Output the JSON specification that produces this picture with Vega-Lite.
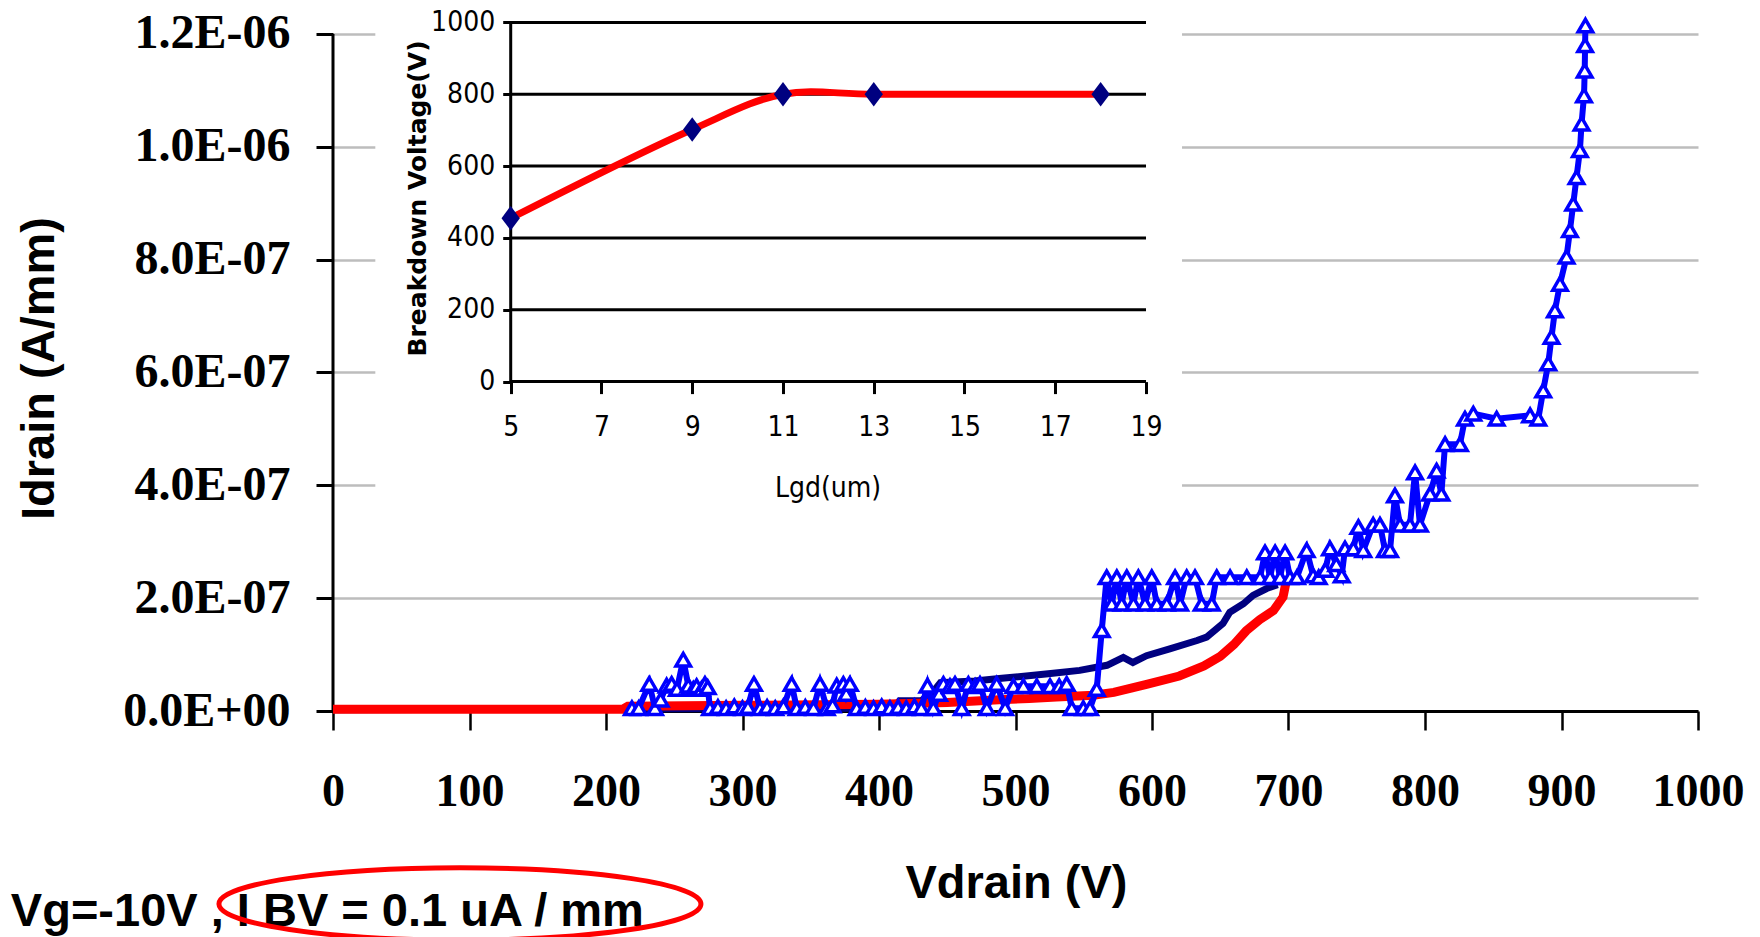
{
  "$schema": "https://vega.github.io/schema/vega-lite/v6.json",
  "width": 1365,
  "height": 691,
  "autosize": {"type": "none"},
  "padding": {"left": 333, "top": 20, "right": 62, "bottom": 226},
  "background": "white",
  "config": {"view": {"stroke": null}},
  "datasets": {
    "white": [{"v": 31, "v2": 622, "i": 3.58e-7, "i2": 1.2248e-6}],
    "yaxis": [{"v": 0, "i": 0, "i2": 1.2e-6}],
    "navy": [
      {"v": 0, "i": 2e-9}, {"v": 400, "i": 5e-9}, {"v": 412, "i": 1e-8}, {"v": 415, "i": 1.8e-8},
      {"v": 431, "i": 1.8e-8}, {"v": 440, "i": 3.5e-8}, {"v": 445, "i": 5e-8}, {"v": 470, "i": 5.3e-8},
      {"v": 490, "i": 5.8e-8}, {"v": 524, "i": 6.6e-8}, {"v": 547, "i": 7.2e-8}, {"v": 567, "i": 8.1e-8},
      {"v": 579, "i": 9.5e-8}, {"v": 586, "i": 8.6e-8}, {"v": 596, "i": 9.8e-8}, {"v": 613, "i": 1.1e-7},
      {"v": 633, "i": 1.25e-7}, {"v": 640, "i": 1.31e-7}, {"v": 652, "i": 1.55e-7}, {"v": 657, "i": 1.75e-7},
      {"v": 667, "i": 1.9e-7}, {"v": 674, "i": 2.05e-7}, {"v": 684, "i": 2.17e-7}, {"v": 692, "i": 2.24e-7}
    ],
    "red": [
      {"v": 0, "i": 3e-9}, {"v": 212, "i": 3e-9}, {"v": 216, "i": 8.5e-9}, {"v": 300, "i": 1e-8},
      {"v": 400, "i": 1.2e-8}, {"v": 450, "i": 1.5e-8}, {"v": 488, "i": 2e-8}, {"v": 510, "i": 2.2e-8},
      {"v": 530, "i": 2.5e-8}, {"v": 557, "i": 2.8e-8}, {"v": 572, "i": 3.3e-8}, {"v": 596, "i": 4.7e-8},
      {"v": 620, "i": 6.2e-8}, {"v": 638, "i": 8e-8}, {"v": 650, "i": 9.7e-8}, {"v": 660, "i": 1.18e-7},
      {"v": 669, "i": 1.42e-7}, {"v": 679, "i": 1.62e-7}, {"v": 689, "i": 1.78e-7}, {"v": 696, "i": 2.02e-7},
      {"v": 698, "i": 2.26e-7}
    ],
    "blue": [
      {"v": 219, "i": 5e-9}, {"v": 224, "i": 5e-9}, {"v": 231.7, "i": 4.8e-8}, {"v": 235.9, "i": 5e-9},
      {"v": 240, "i": 2e-8}, {"v": 244.4, "i": 4.5e-8}, {"v": 248.1, "i": 4.8e-8}, {"v": 252, "i": 3.9e-8},
      {"v": 256.6, "i": 9.1e-8}, {"v": 260.3, "i": 4.5e-8}, {"v": 264, "i": 3.9e-8}, {"v": 266.4, "i": 4.4e-8},
      {"v": 270, "i": 3.9e-8}, {"v": 272.5, "i": 4.8e-8}, {"v": 274.5, "i": 4.2e-8}, {"v": 276.2, "i": 5e-9},
      {"v": 282, "i": 7e-9}, {"v": 288, "i": 5e-9}, {"v": 294, "i": 8e-9}, {"v": 300, "i": 5e-9},
      {"v": 304, "i": 7e-9}, {"v": 308.4, "i": 4.8e-8}, {"v": 312.8, "i": 5e-9}, {"v": 318, "i": 7e-9},
      {"v": 324, "i": 5e-9}, {"v": 330, "i": 8e-9}, {"v": 336, "i": 4.8e-8}, {"v": 339.7, "i": 5e-9},
      {"v": 346, "i": 7e-9}, {"v": 352, "i": 5e-9}, {"v": 356.8, "i": 4.8e-8}, {"v": 361.7, "i": 5e-9},
      {"v": 366, "i": 1e-8}, {"v": 369, "i": 4.5e-8}, {"v": 373.9, "i": 4.8e-8}, {"v": 376, "i": 3e-8},
      {"v": 378.7, "i": 4.8e-8}, {"v": 383.6, "i": 5e-9}, {"v": 390, "i": 7e-9}, {"v": 396, "i": 5e-9},
      {"v": 402, "i": 8e-9}, {"v": 408, "i": 5e-9}, {"v": 414, "i": 7e-9}, {"v": 420, "i": 5e-9},
      {"v": 426, "i": 8e-9}, {"v": 431, "i": 5e-9}, {"v": 435.5, "i": 4.5e-8}, {"v": 439.8, "i": 5e-9},
      {"v": 444, "i": 3e-8}, {"v": 447.2, "i": 4.8e-8}, {"v": 452, "i": 4.4e-8}, {"v": 455.7, "i": 4.8e-8},
      {"v": 460.6, "i": 5e-9}, {"v": 465.5, "i": 4.8e-8}, {"v": 470.4, "i": 4.4e-8}, {"v": 474, "i": 4.8e-8},
      {"v": 479, "i": 5e-9}, {"v": 486.2, "i": 4.8e-8}, {"v": 492.4, "i": 5e-9}, {"v": 498.5, "i": 4.4e-8},
      {"v": 505.8, "i": 4.4e-8}, {"v": 515.6, "i": 4.4e-8}, {"v": 525.3, "i": 4.4e-8}, {"v": 532, "i": 4.4e-8},
      {"v": 537.5, "i": 4.8e-8}, {"v": 541.2, "i": 5e-9}, {"v": 549.7, "i": 5e-9}, {"v": 554.6, "i": 5e-9},
      {"v": 559.5, "i": 3.9e-8}, {"v": 563.2, "i": 1.43e-7}, {"v": 566.8, "i": 2.37e-7}, {"v": 570.5, "i": 1.9e-7},
      {"v": 574.2, "i": 2.37e-7}, {"v": 577.8, "i": 1.9e-7}, {"v": 581.5, "i": 2.37e-7}, {"v": 586.4, "i": 1.9e-7},
      {"v": 590, "i": 2.37e-7}, {"v": 594.9, "i": 1.9e-7}, {"v": 599.8, "i": 2.37e-7}, {"v": 603.5, "i": 1.9e-7},
      {"v": 610.8, "i": 1.9e-7}, {"v": 616.9, "i": 2.37e-7}, {"v": 620.6, "i": 1.9e-7}, {"v": 625.4, "i": 2.37e-7},
      {"v": 631.5, "i": 2.37e-7}, {"v": 636.4, "i": 1.9e-7}, {"v": 643.8, "i": 1.9e-7}, {"v": 647.4, "i": 2.37e-7},
      {"v": 657.2, "i": 2.37e-7}, {"v": 669.4, "i": 2.37e-7}, {"v": 679.2, "i": 2.37e-7}, {"v": 682.8, "i": 2.81e-7},
      {"v": 686.5, "i": 2.37e-7}, {"v": 690.2, "i": 2.81e-7}, {"v": 693.8, "i": 2.37e-7}, {"v": 697.5, "i": 2.81e-7},
      {"v": 701.1, "i": 2.37e-7}, {"v": 706.2, "i": 2.37e-7}, {"v": 713.3, "i": 2.85e-7}, {"v": 718, "i": 2.4e-7},
      {"v": 722.1, "i": 2.37e-7}, {"v": 727, "i": 2.5e-7}, {"v": 730.4, "i": 2.88e-7}, {"v": 735, "i": 2.6e-7},
      {"v": 739, "i": 2.4e-7}, {"v": 741.4, "i": 2.88e-7}, {"v": 747.5, "i": 2.88e-7}, {"v": 751.2, "i": 3.26e-7},
      {"v": 754.8, "i": 2.85e-7}, {"v": 762, "i": 3.3e-7}, {"v": 767, "i": 3.3e-7}, {"v": 770.7, "i": 2.85e-7},
      {"v": 774.4, "i": 2.85e-7}, {"v": 778, "i": 3.82e-7}, {"v": 781.7, "i": 3.3e-7}, {"v": 789, "i": 3.3e-7},
      {"v": 792.7, "i": 4.23e-7}, {"v": 796.3, "i": 3.3e-7}, {"v": 803.7, "i": 3.85e-7}, {"v": 808.5, "i": 4.26e-7},
      {"v": 812, "i": 3.85e-7}, {"v": 814.7, "i": 4.73e-7}, {"v": 825.6, "i": 4.73e-7}, {"v": 829.3, "i": 5.18e-7},
      {"v": 835.4, "i": 5.27e-7}, {"v": 852.5, "i": 5.18e-7}, {"v": 877, "i": 5.24e-7}, {"v": 883, "i": 5.18e-7},
      {"v": 886.6, "i": 5.68e-7}, {"v": 890.3, "i": 6.16e-7}, {"v": 892.7, "i": 6.63e-7}, {"v": 895.2, "i": 7.1e-7},
      {"v": 898.9, "i": 7.57e-7}, {"v": 903.7, "i": 8.05e-7}, {"v": 906.2, "i": 8.52e-7}, {"v": 908.6, "i": 8.99e-7},
      {"v": 911, "i": 9.46e-7}, {"v": 913.5, "i": 9.94e-7}, {"v": 914.7, "i": 1.041e-6}, {"v": 916.5, "i": 1.091e-6},
      {"v": 917, "i": 1.135e-6}, {"v": 917.3, "i": 1.18e-6}, {"v": 917.5, "i": 1.215e-6}
    ],
    "note": [{"v": -236, "i": -3.56e-7, "label": "Vg=-10V , I BV = 0.1 uA / mm"}],
    "ellipse": [{"v": 93, "i": -3.42e-7}],
    "insetGrid": [
      {"lgd": 5, "lgd2": 19, "bv": 0}, {"lgd": 5, "lgd2": 19, "bv": 200}, {"lgd": 5, "lgd2": 19, "bv": 400},
      {"lgd": 5, "lgd2": 19, "bv": 600}, {"lgd": 5, "lgd2": 19, "bv": 800}, {"lgd": 5, "lgd2": 19, "bv": 1000}
    ],
    "insetAxis": [{"lgd": 5, "bv": 0, "bv2": 1000}],
    "bv": [
      {"lgd": 5, "bv": 455}, {"lgd": 9, "bv": 702}, {"lgd": 11, "bv": 800}, {"lgd": 13, "bv": 800}, {"lgd": 18, "bv": 800}
    ]
  },
  "layer": [
    {
      "encoding": {
        "x": {
          "field": "v", "type": "quantitative",
          "scale": {"domain": [0, 1000], "nice": false, "zero": false},
          "axis": {
            "orient": "bottom", "values": [0, 100, 200, 300, 400, 500, 600, 700, 800, 900, 1000], "format": "d",
            "grid": false, "domain": true, "domainColor": "black", "domainWidth": 3,
            "ticks": true, "tickColor": "black", "tickWidth": 2.5, "tickSize": 19,
            "labelFont": "Liberation Serif", "labelFontWeight": "bold", "labelFontSize": 46,
            "labelColor": "black", "labelPadding": 61, "labelBaseline": "middle",
            "labelFlush": false, "labelOverlap": false,
            "title": "Vdrain (V)", "titleFont": "Liberation Sans", "titleFontWeight": "bold",
            "titleFontSize": 47, "titleColor": "black", "titleX": 683, "titleY": 172,
            "titleBaseline": "middle", "titleAlign": "center", "zindex": 0
          }
        },
        "y": {
          "field": "i", "type": "quantitative",
          "scale": {"domain": [0, 1.2248e-6], "nice": false, "zero": false},
          "axis": {
            "orient": "left", "values": [0, 2e-7, 4e-7, 6e-7, 8e-7, 1e-6, 1.2e-6],
            "grid": true, "gridColor": "#BDBDBD", "gridWidth": 2.5,
            "domain": false, "ticks": true, "tickColor": "black", "tickWidth": 3, "tickSize": 17,
            "labelExpr": "replace(replace(format(datum.value, '.1e'), 'e-', 'E-0'), 'e+', 'E+0')",
            "labelFont": "Liberation Serif", "labelFontWeight": "bold", "labelFontSize": 48,
            "labelColor": "black", "labelPadding": 26, "labelOverlap": false, "labelFlush": false,
            "title": "Idrain (A/mm)", "titleFont": "Liberation Sans", "titleFontWeight": "bold",
            "titleFontSize": 47, "titleColor": "black", "titleX": -294, "titleY": 348,
            "titleAngle": 270, "titleBaseline": "middle", "titleAlign": "center", "zindex": 0
          }
        }
      },
      "layer": [
        {
          "data": {"name": "white"},
          "mark": {"type": "rect", "fill": "white", "stroke": null},
          "encoding": {"x2": {"field": "v2"}, "y2": {"field": "i2"}}
        },
        {
          "data": {"name": "yaxis"},
          "mark": {"type": "rule", "color": "black", "strokeWidth": 3},
          "encoding": {"y2": {"field": "i2"}}
        },
        {
          "data": {"name": "navy"},
          "mark": {"type": "line", "color": "#000080", "strokeWidth": 7},
          "encoding": {}
        },
        {
          "data": {"name": "red"},
          "mark": {"type": "line", "color": "#FF0000", "strokeWidth": 9},
          "encoding": {}
        },
        {
          "data": {"name": "blue"},
          "mark": {"type": "line", "color": "#0000FF", "strokeWidth": 6},
          "encoding": {}
        },
        {
          "data": {"name": "blue"},
          "mark": {"type": "point", "shape": "triangle-up", "size": 210, "filled": true, "fill": "white", "stroke": "#0000FF", "strokeWidth": 3.5, "opacity": 1}
        },
        {
          "data": {"name": "note"},
          "mark": {"type": "text", "align": "left", "baseline": "middle", "font": "Liberation Sans", "fontWeight": "bold", "fontSize": 47, "color": "black"},
          "encoding": {"text": {"field": "label"}}
        },
        {
          "data": {"name": "ellipse"},
          "mark": {
            "type": "point",
            "shape": "M-1,0C-1,-0.0828,-0.5523,-0.15,0,-0.15C0.5523,-0.15,1,-0.0828,1,0C1,0.0828,0.5523,0.15,0,0.15C-0.5523,0.15,-1,0.0828,-1,0Z",
            "size": 232324, "filled": false, "stroke": "#FF0000", "strokeWidth": 5, "opacity": 1
          }
        }
      ]
    },
    {
      "encoding": {
        "x": {
          "field": "lgd", "type": "quantitative",
          "scale": {"domain": [1.084, 31.164], "nice": false, "zero": false},
          "axis": {
            "orient": "bottom", "offset": -329.4, "values": [5, 7, 9, 11, 13, 15, 17, 19], "format": "d",
            "domain": false, "grid": false, "ticks": true, "tickColor": "black", "tickWidth": 3, "tickSize": 12,
            "labelFont": "Liberation Sans Narrow, DejaVu Sans Condensed, sans-serif", "labelFontSize": 28,
            "labelColor": "black", "labelPadding": 34, "labelBaseline": "middle",
            "labelFlush": false, "labelOverlap": false,
            "title": "Lgd(um)", "titleFont": "Liberation Sans Narrow, DejaVu Sans Condensed, sans-serif",
            "titleFontWeight": "normal", "titleFontSize": 28, "titleColor": "black",
            "titleX": 494.5, "titleY": 106.4, "titleBaseline": "middle", "titleAlign": "center", "zindex": 2
          }
        },
        "y": {
          "field": "bv", "type": "quantitative",
          "scale": {"domain": [-917, 1006.7], "nice": false, "zero": false},
          "axis": {
            "orient": "left", "offset": -177.7, "values": [0, 200, 400, 600, 800, 1000], "format": "d",
            "domain": false, "grid": false, "ticks": true, "tickColor": "black", "tickWidth": 3, "tickSize": 8,
            "labelFont": "Liberation Sans Narrow, DejaVu Sans Condensed, sans-serif", "labelFontSize": 28,
            "labelColor": "black", "labelPadding": 8, "labelOverlap": false, "labelFlush": false,
            "title": "Breakdown Voltage(V)", "titleFont": "DejaVu Sans", "titleFontWeight": "bold",
            "titleFontSize": 25, "titleColor": "black", "titleX": -93.2, "titleY": 178,
            "titleAngle": 270, "titleBaseline": "middle", "titleAlign": "center", "zindex": 2
          }
        }
      },
      "layer": [
        {
          "data": {"name": "insetGrid"},
          "mark": {"type": "rule", "color": "black", "strokeWidth": 3},
          "encoding": {"x2": {"field": "lgd2"}}
        },
        {
          "data": {"name": "insetAxis"},
          "mark": {"type": "rule", "color": "black", "strokeWidth": 3},
          "encoding": {"y2": {"field": "bv2"}}
        },
        {
          "data": {"name": "bv"},
          "mark": {"type": "line", "color": "#FF0000", "strokeWidth": 7, "interpolate": "catmull-rom"},
          "encoding": {}
        },
        {
          "data": {"name": "bv"},
          "mark": {"type": "point", "shape": "M0,-1L0.75,0L0,1L-0.75,0Z", "size": 600, "filled": true, "color": "#000080", "opacity": 1}
        }
      ]
    }
  ],
  "resolve": {"scale": {"x": "independent", "y": "independent"}}
}
